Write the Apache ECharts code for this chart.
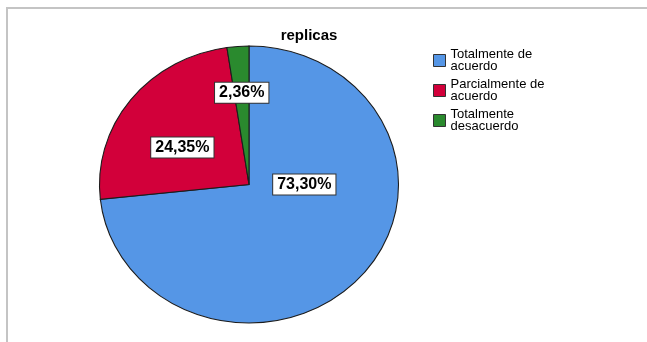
<!DOCTYPE html>
<html><head><meta charset="utf-8">
<script src="https://cdn.jsdelivr.net/npm/echarts@6/dist/echarts.min.js"></script>
<style>html,body{margin:0;padding:0;background:#fff}#c{width:647px;height:342px}</style>
</head><body><div id="c"></div>
<script>
// ---- data ----
const chartTitle = 'replicas';
const categories = ['Totalmente de\nacuerdo', 'Parcialmente de\nacuerdo', 'Totalmente\ndesacuerdo'];
const percents = [73.30, 24.35, 2.36];
const percentLabels = ['73,30%', '24,35%', '2,36%'];

// ---- styles / layout ----
const colors = ['#5596e6', '#d2003a', '#2a8a2e'];
const pie = { cx: 249, cy: 184.5, rx: 149.5, ry: 138.5 };
const labelPlace = [{ angle: 90, r: 0.37 }, { angle: 301, r: 0.52 }, { angle: 355.8, r: 0.665 }];
const FONT = '"Liberation Sans", Arial, sans-serif';

const total = percents.reduce((a, b) => a + b, 0);
const starts = [];
let acc = 0;
percents.forEach(v => { starts.push(acc); acc += v; });

function makeSeries(i) {
  return {
    type: 'custom',
    name: categories[i],
    coordinateSystem: 'none',
    itemStyle: { color: colors[i], borderColor: '#222', borderWidth: 1 },
    data: [[percents[i]]],
    renderItem(params, api) {
      const v = api.value(0);
      const s = starts[i] / total * Math.PI * 2 - Math.PI / 2;
      const e = s + v / total * Math.PI * 2;
      const lp = labelPlace[i];
      const th = lp.angle * Math.PI / 180;
      const lx = pie.cx + lp.r * pie.rx * Math.sin(th);
      const ly = pie.cy - lp.r * pie.ry * Math.cos(th);
      return {
        type: 'group',
        children: [
          {
            type: 'group', x: pie.cx, y: pie.cy, scaleX: pie.rx / pie.ry,
            children: [{
              type: 'sector',
              shape: { cx: 0, cy: 0, r: pie.ry, r0: 0, startAngle: s, endAngle: e, clockwise: true },
              style: { fill: colors[i], stroke: '#1c1c1c', lineWidth: 1, strokeNoScale: true }
            }]
          },
          {
            type: 'text', x: lx, y: ly, z2: 10,
            style: {
              text: percentLabels[i], font: 'bold 16px ' + FONT, fill: '#000',
              align: 'center', verticalAlign: 'middle',
              backgroundColor: '#fff', borderColor: '#333', borderWidth: 1, padding: [2, 4]
            }
          }
        ]
      };
    }
  };
}

const chart = echarts.init(document.getElementById('c'), null, { renderer: 'canvas' });
chart.setOption({
  animation: false,
  color: colors,
  graphic: [
    { type: 'rect', shape: { x: 7, y: 8, width: 700, height: 400 }, style: { fill: 'none', stroke: '#c4c4c4', lineWidth: 2 }, silent: true },
    { type: 'text', x: 309, y: 28, style: { text: chartTitle, font: 'bold 15px ' + FONT, fill: '#000', align: 'center', verticalAlign: 'top' } }
  ],
  legend: {
    orient: 'vertical', left: 433, top: 48, padding: 0,
    itemWidth: 12, itemHeight: 12, itemGap: 5, icon: 'rect',
    itemStyle: { borderColor: '#333', borderWidth: 1 },
    textStyle: { fontSize: 13, lineHeight: 12, color: '#000', fontFamily: FONT },
    data: categories
  },
  series: categories.map((c, i) => makeSeries(i))
});
</script></body></html>
